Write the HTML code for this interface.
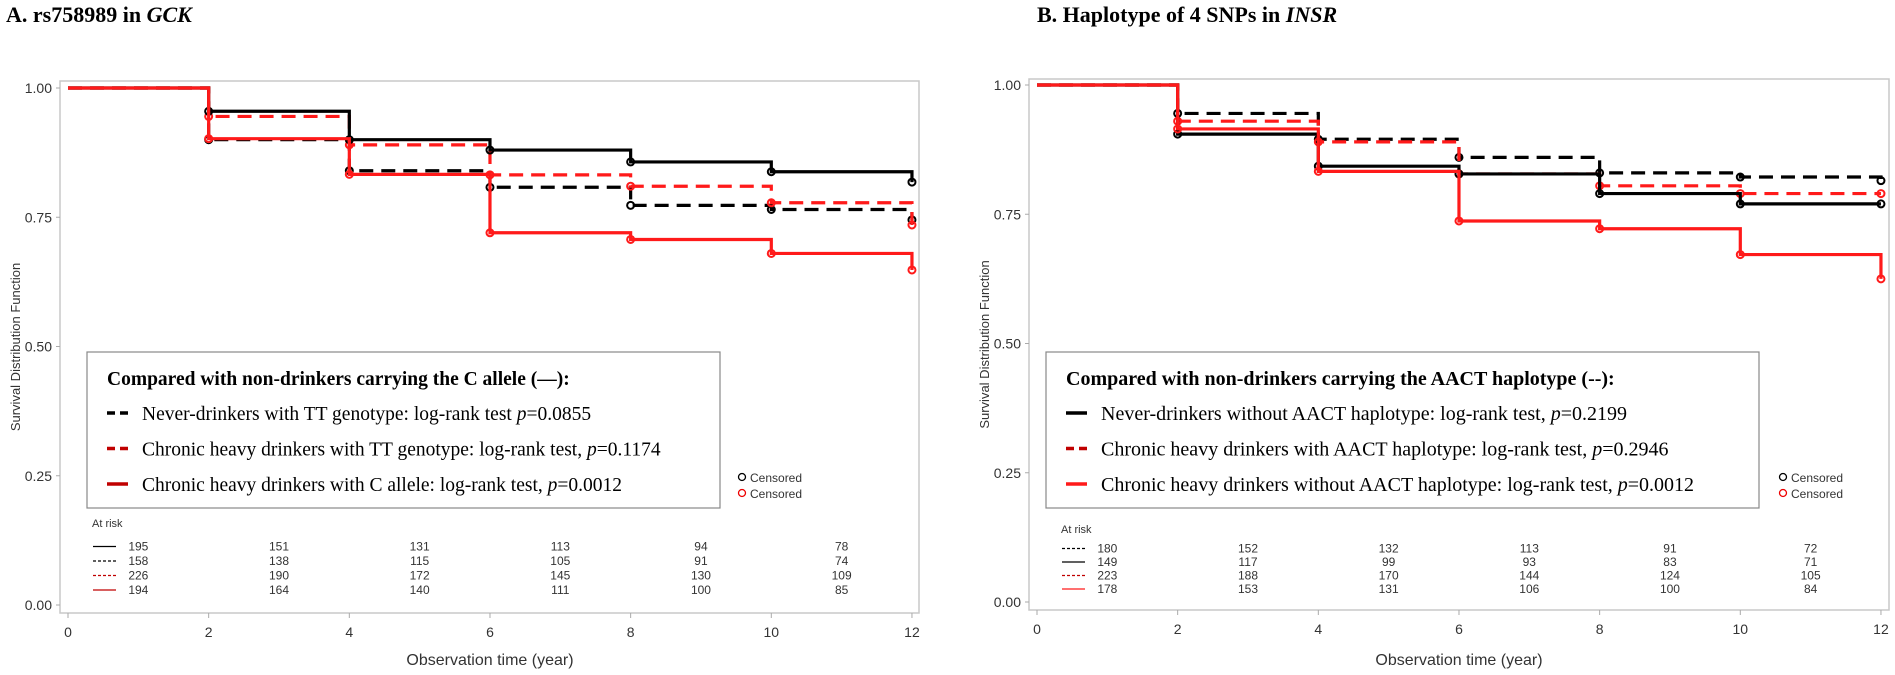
<!DOCTYPE html>
<html><head><meta charset="utf-8"><style>
body{margin:0;background:#fff;}
svg{display:block;}
.t{font-family:"Liberation Sans",sans-serif;fill:#333;}
.s{font-family:"Liberation Serif",serif;fill:#000;}
</style></head><body>
<svg width="1895" height="675" xmlns="http://www.w3.org/2000/svg" id="sv">
<text x="6" y="22" class="s" font-size="22" font-weight="bold">A. rs758989 in <tspan font-style="italic">GCK</tspan></text>
<text x="1037" y="22" class="s" font-size="22" font-weight="bold">B. Haplotype of 4 SNPs in <tspan font-style="italic">INSR</tspan></text>
</svg>
<script>
const NS="http://www.w3.org/2000/svg",sv=document.getElementById('sv');
function el(t,a,txt){const e=document.createElementNS(NS,t);for(const k in a)e.setAttribute(k,a[k]);if(txt!==undefined)e.textContent=txt;sv.appendChild(e);return e;}
function panel(P){
 const X=t=>P.x0+t*70.33, Y=s=>P.y1+(1-s)*517;
 el('rect',{x:P.fl,y:P.ft,width:P.fr-P.fl,height:P.fb-P.ft,fill:'none',stroke:'#c8c8c8','stroke-width':1.5});
 [0,0.25,0.5,0.75,1].forEach(v=>{el('line',{x1:P.fl-4,x2:P.fl,y1:Y(v),y2:Y(v),stroke:'#aaa'});
  el('text',{x:P.fl-8,y:Y(v)+5,'text-anchor':'end','font-size':14,class:'t'},v.toFixed(2));});
 [0,2,4,6,8,10,12].forEach(t=>{el('line',{x1:X(t),x2:X(t),y1:P.fb,y2:P.fb+5,stroke:'#aaa'});
  el('text',{x:X(t),y:P.fb+24,'text-anchor':'middle','font-size':14,class:'t'},t);});
 el('text',{x:(X(0)+X(12))/2,y:665,'text-anchor':'middle','font-size':16,class:'t'},'Observation time (year)');
 el('text',{x:0,y:0,'text-anchor':'middle','font-size':13,class:'t',transform:`translate(${P.fl-40},${(P.ft+P.fb)/2}) rotate(-90)`},'Survival Distribution Function');
 P.curves.forEach(c=>{
  let d=`M${X(0)},${Y(1)}`;
  c.v.forEach((s,i)=>{const t=2*(i+1);d+=` H${X(t)} V${Y(s)}`;});
  el('path',{d:d,fill:'none',stroke:c.col,'stroke-width':3.2,'stroke-dasharray':c.dash?'14 8':'none'});
  c.v.forEach((s,i)=>el('circle',{cx:X(2*(i+1)),cy:Y(s),r:3.5,fill:'none',stroke:c.col,'stroke-width':2}));
 });
 const L=P.leg;
 el('rect',{x:L.x,y:352,width:L.w,height:156,fill:'#fff',stroke:'#888','stroke-width':1.2});
 el('text',{x:L.x+20,y:385,class:'s','font-size':L.fs,'font-weight':'bold'},L.title);
 L.items.forEach((it,i)=>{const y=413+i*35.5;
  el('line',{x1:L.x+20,x2:L.x+41,y1:y,y2:y,stroke:it.col,'stroke-width':3.5,'stroke-dasharray':it.dash?'8 5':'none'});
  const tx=el('text',{x:L.x+55,y:y+7,class:'s','font-size':L.fs},it.t);
  const ts=document.createElementNS(NS,'tspan');ts.setAttribute('font-style','italic');ts.textContent='p';tx.appendChild(ts);
  const t2=document.createElementNS(NS,'tspan');t2.textContent='='+it.p;tx.appendChild(t2);
 });
 el('circle',{cx:L.cx,cy:477,r:3.5,fill:'none',stroke:'#000','stroke-width':1.3});
 el('text',{x:L.cx+8,y:482,'font-size':12,class:'t'},'Censored');
 el('circle',{cx:L.cx,cy:493,r:3.5,fill:'none',stroke:'#e00','stroke-width':1.3});
 el('text',{x:L.cx+8,y:498,'font-size':12,class:'t'},'Censored');
 el('text',{x:P.fl+32,y:P.ar,'font-size':11,class:'t'},'At risk');
 P.risk.forEach((r,i)=>{const y=P.ar+P.rs*(i+1)+(P.rg||0);
  el('line',{x1:P.fl+33,x2:P.fl+56,y1:y-4,y2:y-4,stroke:r.col,'stroke-width':1.3,'stroke-dasharray':r.dash?'3 2':'none'});
  r.n.forEach((n,j)=>el('text',{x:X(1+2*j),y:y,'text-anchor':'middle','font-size':12,class:'t'},n));
 });
}
const K='#000',R='#ff1a1a',DR='#c00000';
panel({x0:68,y1:88,fl:60,ft:81,fr:919,fb:613,
 curves:[
 {col:K,dash:true,v:[0.900,0.840,0.808,0.773,0.765,0.745]},
 {col:R,dash:true,v:[0.945,0.890,0.832,0.810,0.778,0.735]},
 {col:K,dash:false,v:[0.955,0.900,0.880,0.857,0.838,0.818]},
 {col:R,dash:false,v:[0.902,0.833,0.720,0.707,0.680,0.648]}],
 leg:{x:87,w:633,cx:742,fs:19.5,title:'Compared with non-drinkers carrying the C allele (\u2014):',items:[
 {col:K,dash:true,t:'Never-drinkers with TT genotype: log-rank test ',p:'0.0855'},
 {col:DR,dash:true,t:'Chronic heavy drinkers with TT genotype: log-rank  test, ',p:'0.1174'},
 {col:DR,dash:false,t:'Chronic heavy drinkers with C allele:  log-rank  test, ',p:'0.0012'}]},
 ar:527,rs:14.5,rg:9,
 risk:[{col:K,n:[195,151,131,113,94,78]},{col:K,dash:true,n:[158,138,115,105,91,74]},
 {col:DR,dash:true,n:[226,190,172,145,130,109]},{col:DR,n:[194,164,140,111,100,85]}]});
panel({x0:1037,y1:85,fl:1029,ft:79,fr:1889,fb:610,
 curves:[
 {col:K,dash:true,v:[0.945,0.895,0.860,0.830,0.822,0.815]},
 {col:R,dash:true,v:[0.930,0.890,0.828,0.805,0.790,0.790]},
 {col:K,dash:false,v:[0.905,0.843,0.828,0.790,0.770,0.770]},
 {col:R,dash:false,v:[0.915,0.833,0.737,0.722,0.672,0.625]}],
 leg:{x:1046,w:713,cx:1783,fs:20,title:'Compared with non-drinkers carrying the AACT haplotype (--):',items:[
 {col:K,dash:false,t:'Never-drinkers without AACT haplotype: log-rank test, ',p:'0.2199'},
 {col:DR,dash:true,t:'Chronic heavy drinkers with AACT haplotype: log-rank test, ',p:'0.2946'},
 {col:R,dash:false,t:'Chronic heavy drinkers without AACT haplotype: log-rank test, ',p:'0.0012'}]},
 ar:533,rs:13.5,rg:6,
 risk:[{col:K,dash:true,n:[180,152,132,113,91,72]},{col:K,n:[149,117,99,93,83,71]},
 {col:DR,dash:true,n:[223,188,170,144,124,105]},{col:R,n:[178,153,131,106,100,84]}]});
</script>
</body></html>
